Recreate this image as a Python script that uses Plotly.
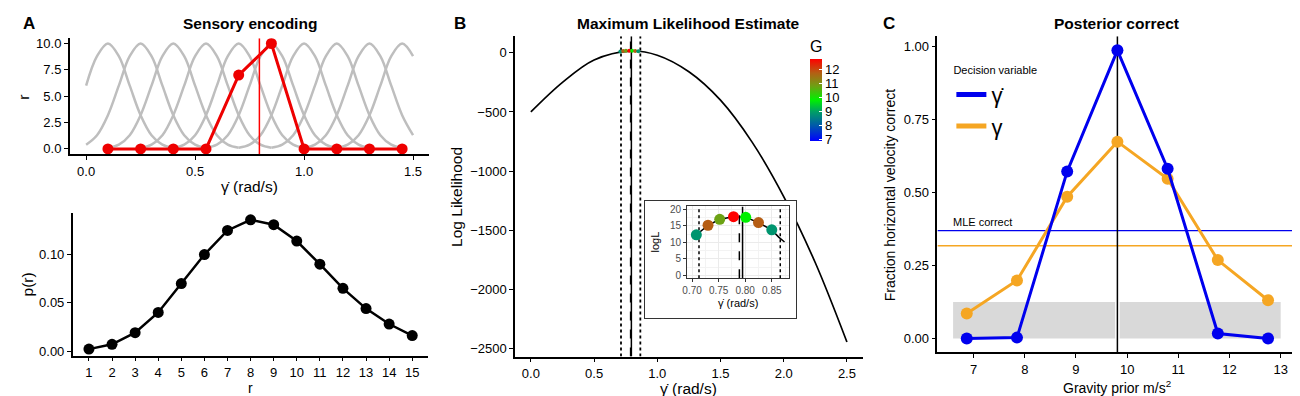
import plotly.graph_objects as go

W, H = 1300, 396
FONT = "Liberation Sans"

# ---------------- Panel A (top): tuning curves ----------------
tuning_centers = [0.10, 0.25, 0.40, 0.55, 0.70, 0.85, 1.00, 1.15, 1.30, 1.45]
tuning_offsets = [-0.30, -0.25, -0.20, -0.15, -0.10, -0.05, 0.0, 0.05, 0.10, 0.15, 0.20, 0.25, 0.30]
tuning_profile = [0.1, 0.4, 1.3, 3.2, 6.0, 8.8, 10.0, 8.8, 6.0, 3.2, 1.3, 0.4, 0.1]
spike_counts = [0, 0, 0, 0, 7, 10, 0, 0, 0, 0]
true_velocity = 0.795

# ---------------- Panel A (bottom): p(r) ----------------
r_values = list(range(1, 16))
p_r = [0.002, 0.007, 0.019, 0.040, 0.070, 0.100, 0.125, 0.136, 0.131,
       0.114, 0.090, 0.065, 0.044, 0.028, 0.016]

# ---------------- Panel B: log likelihood ----------------
ll_x = [0.0, 0.25, 0.5, 0.79, 1.0, 1.25, 1.5, 1.75, 2.0, 2.25, 2.5]
ll_y = [-500, -250, -60, 15, -20, -160, -400, -755, -1215, -1775, -2445]
ci_bounds = [0.713, 0.866]
mle_estimate = 0.789

inset_x = [0.708, 0.730, 0.752, 0.778, 0.801, 0.825, 0.850]
inset_logL = [12.3, 15.2, 17.0, 17.8, 17.6, 16.0, 13.8]
inset_G = [8.829, 11.772, 10.791, 12.753, 9.81, 11.772, 8.829]
inset_tail_x = [0.863, 0.874]
inset_tail_y = [11.6, 10.1]
G_levels = [6.867, 7.848, 8.829, 9.81, 10.791, 11.772, 12.753]

# ---------------- Panel C: posterior correct ----------------
gravity_prior = [6.867, 7.848, 8.829, 9.81, 10.791, 11.772, 12.753]
correct_gammadot = [0.0, 0.003, 0.573, 0.988, 0.582, 0.017, 0.0]
correct_gamma = [0.086, 0.199, 0.486, 0.675, 0.548, 0.269, 0.131]
mle_correct_gammadot = 0.370
mle_correct_gamma = 0.318
chance_x = [6.6, 13.0]
chance_level = 0.125
true_gravity = 9.81

GDOT = "\u03b3\u0307"
GAM = "\u03b3"
BLUE = "#0000EE"
ORANGE = "#F5A623"
RED = "#EE0000"

colorscale = [
    [0.0, "rgb(0,0,255)"], [0.19, "rgb(0,90,170)"], [0.36, "rgb(0,160,100)"],
    [0.5, "rgb(0,240,0)"], [0.67, "rgb(110,160,20)"], [0.83, "rgb(180,95,20)"],
    [1.0, "rgb(255,0,0)"],
]


def px_x(p):
    return p / W


def px_y(p):
    return 1 - p / H


def axis(**kw):
    base = dict(showline=True, linecolor="black", linewidth=1.6, ticks="outside",
                ticklen=4, tickwidth=1.3, tickcolor="black", showgrid=False,
                zeroline=False, fixedrange=True,
                tickfont=dict(family=FONT, size=13, color="black"))
    base.update(kw)
    return base


fig = go.Figure()

# Panel A top traces
for c in tuning_centers:
    xs, ys = [], []
    for o, v in zip(tuning_offsets, tuning_profile):
        x = round(c + o, 4)
        if -1e-9 <= x <= 1.5 + 1e-9:
            xs.append(x)
            ys.append(v)
    fig.add_trace(go.Scatter(x=xs, y=ys, mode="lines", line=dict(color="#BEBEBE", width=2.5, shape="spline"),
                             xaxis="x", yaxis="y", showlegend=False, hoverinfo="skip"))
fig.add_trace(go.Scatter(x=tuning_centers, y=spike_counts, mode="lines+markers",
                         line=dict(color=RED, width=3), marker=dict(color=RED, size=11),
                         xaxis="x", yaxis="y", showlegend=False))

# Panel A bottom
fig.add_trace(go.Scatter(x=r_values, y=p_r, mode="lines+markers",
                         line=dict(color="black", width=2.5), marker=dict(color="black", size=11),
                         xaxis="x2", yaxis="y2", showlegend=False))

# Panel B main
B_YR = [-2568, 141]
fig.add_trace(go.Scatter(x=ll_x, y=ll_y, mode="lines", line=dict(color="black", width=1.7, shape="spline"),
                         xaxis="x3", yaxis="y3", showlegend=False))
fig.add_trace(go.Scatter(x=inset_x, y=inset_logL, mode="markers",
                         marker=dict(size=4, color=inset_G, colorscale=colorscale,
                                     cmin=min(G_levels), cmax=max(G_levels), showscale=True,
                                     colorbar=dict(title=dict(text="G", side="top",
                                                              font=dict(family=FONT, size=16)),
                                                   x=px_x(800), xanchor="left", y=px_y(80), yanchor="middle",
                                                   len=104, lenmode="pixels", thickness=12,
                                                   xpad=0, ypad=0, outlinewidth=0,
                                                   ticks="inside", tickcolor="white", ticklen=3,
                                                   tickvals=[7, 8, 9, 10, 11, 12],
                                                   tickfont=dict(family=FONT, size=13))),
                         xaxis="x3", yaxis="y3", showlegend=False))

# Panel B inset frame (white box)
fig.add_trace(go.Scatter(x=[0, 1, 1, 0, 0], y=[0, 0, 1, 1, 0], fill="toself", fillcolor="white",
                         mode="lines", line=dict(width=0), xaxis="x4", yaxis="y4",
                         showlegend=False, hoverinfo="skip"))

# Panel B inset
IN_YR = [-0.9, 20.9]
fig.add_trace(go.Scatter(x=inset_x + inset_tail_x, y=inset_logL + inset_tail_y, mode="lines",
                         line=dict(color="black", width=1.5), xaxis="x5", yaxis="y5",
                         showlegend=False))
fig.add_trace(go.Scatter(x=inset_x, y=inset_logL, mode="markers",
                         marker=dict(size=11, color=inset_G, colorscale=colorscale,
                                     cmin=min(G_levels), cmax=max(G_levels), showscale=False),
                         xaxis="x5", yaxis="y5", showlegend=False))

# Panel C
C_YR = [-0.0474, 1.036]
fig.add_trace(go.Scatter(x=gravity_prior, y=correct_gamma, mode="lines+markers",
                         line=dict(color=ORANGE, width=3), marker=dict(color=ORANGE, size=12),
                         xaxis="x6", yaxis="y6", showlegend=False))
fig.add_trace(go.Scatter(x=gravity_prior, y=correct_gammadot, mode="lines+markers",
                         line=dict(color=BLUE, width=3), marker=dict(color=BLUE, size=12),
                         xaxis="x6", yaxis="y6", showlegend=False))
fig.add_trace(go.Scatter(x=[None], y=[None], mode="lines", line=dict(color=BLUE, width=5),
                         name=GDOT, xaxis="x6", yaxis="y6", showlegend=True))
fig.add_trace(go.Scatter(x=[None], y=[None], mode="lines", line=dict(color=ORANGE, width=5),
                         name=GAM, xaxis="x6", yaxis="y6", showlegend=True))

shapes = []
# Panel A red line
shapes.append(dict(type="line", xref="x", yref="y", x0=true_velocity, x1=true_velocity,
                   y0=-0.5, y1=10.5, line=dict(color="#FF0000", width=1.5), layer="above"))
# Panel B lines
for xb in ci_bounds:
    shapes.append(dict(type="line", xref="x3", yref="y3", x0=xb, x1=xb, y0=B_YR[0], y1=B_YR[1],
                       line=dict(color="black", width=1.8, dash="dot"), layer="between"))
    shapes.append(dict(type="line", xref="x5", yref="y5", x0=xb, x1=xb, y0=IN_YR[0], y1=IN_YR[1],
                       line=dict(color="black", width=1.5, dash="dot"), layer="between"))
shapes.append(dict(type="line", xref="x3", yref="y3", x0=true_velocity, x1=true_velocity,
                   y0=B_YR[0], y1=B_YR[1], line=dict(color="black", width=1.5), layer="between"))
shapes.append(dict(type="line", xref="x3", yref="y3", x0=mle_estimate, x1=mle_estimate,
                   y0=B_YR[0], y1=B_YR[1], line=dict(color="black", width=1.5, dash="dash"), layer="between"))
shapes.append(dict(type="line", xref="x5", yref="y5", x0=true_velocity, x1=true_velocity,
                   y0=IN_YR[0], y1=IN_YR[1], line=dict(color="black", width=1.5), layer="between"))
shapes.append(dict(type="line", xref="x5", yref="y5", x0=mle_estimate, x1=mle_estimate,
                   y0=IN_YR[0], y1=IN_YR[1], line=dict(color="black", width=1.5, dash="dash"), layer="between"))
# Panel C
shapes.append(dict(type="rect", xref="x6", yref="y6", x0=chance_x[0], x1=chance_x[1], y0=0, y1=chance_level,
                   fillcolor="#D9D9D9", line=dict(width=0), layer="between"))
shapes.append(dict(type="line", xref="x6", yref="y6", x0=true_gravity, x1=true_gravity,
                   y0=C_YR[0], y1=C_YR[1], line=dict(color="white", width=4.5), layer="between"))
shapes.append(dict(type="line", xref="x6", yref="y6", x0=6.294, x1=13.3, y0=mle_correct_gammadot,
                   y1=mle_correct_gammadot, line=dict(color=BLUE, width=1.3), layer="between"))
shapes.append(dict(type="line", xref="x6", yref="y6", x0=6.294, x1=13.3, y0=mle_correct_gamma,
                   y1=mle_correct_gamma, line=dict(color=ORANGE, width=1.3), layer="between"))
shapes.append(dict(type="line", xref="x6", yref="y6", x0=true_gravity, x1=true_gravity,
                   y0=C_YR[0], y1=C_YR[1], line=dict(color="black", width=1.5), layer="between"))

ann = []


def text(px, py, s, size=14, bold=False, angle=0, xanchor="center", color="black"):
    ann.append(dict(x=px_x(px), y=px_y(py), xref="paper", yref="paper", text=("<b>%s</b>" % s) if bold else s,
                    showarrow=False, textangle=angle, xanchor=xanchor, yanchor="middle", borderpad=0,
                    font=dict(family=FONT, size=size, color=color)))


text(16, 14, "A", 17, True)
text(449, 14, "B", 17, True)
text(879, 14, "C", 17, True)
text(237.5, 14, "Sensory encoding", 15.5, True)
text(678.5, 14, "Maximum Likelihood Estimate", 15.5, True)
text(1108, 14, "Posterior correct", 15.5, True)
text(237.5, 179, GDOT + " (rad/s)", 15.5)
text(11, 88, "r", 15.5, angle=-90)
text(238, 382.5, "r", 14)
text(15, 278, "p(r)", 15.5, angle=-90)
text(445, 189, "Log Likelihood", 15.5, angle=-90)
text(678.5, 383, GDOT + " (rad/s)", 15.5)
text(645, 235, "logL", 11, angle=-90)
text(728, 297, GDOT + " (rad/s)", 11)
text(880, 187, "Fraction horizontal velocity correct", 14, angle=-90)
text(1108, 382, "Gravity prior m/s<sup>2</sup>", 14)
text(943, 215, "MLE correct", 11, xanchor="left")

fig.update_layout(
    width=W, height=H, margin=dict(l=0, r=0, t=0, b=0),
    paper_bgcolor="white", plot_bgcolor="white",
    font=dict(family=FONT, color="black"),
    shapes=shapes, annotations=ann,
    legend=dict(x=px_x(942), y=px_y(50), xanchor="left", yanchor="top",
                title=dict(text="Decision variable", font=dict(family=FONT, size=11)),
                font=dict(family=FONT, size=22), bgcolor="rgba(0,0,0,0)", tracegroupgap=0),
    xaxis=axis(domain=[px_x(57), px_x(418)], range=[-0.075, 1.575], anchor="y",
               tickvals=[0, 0.5, 1.0, 1.5], tickformat=".1f"),
    yaxis=axis(domain=[px_y(146), px_y(28.6)], range=[-0.5, 10.5], anchor="x",
               tickvals=[0, 2.5, 5, 7.5, 10], tickformat=".1f"),
    xaxis2=axis(domain=[px_x(60), px_x(417)], range=[0.3, 15.7], anchor="y2", tickvals=r_values),
    yaxis2=axis(domain=[px_y(350), px_y(206)], range=[-0.0047, 0.1427], anchor="x2",
                tickvals=[0, 0.05, 0.10], tickformat=".2f"),
    xaxis3=axis(domain=[px_x(504), px_x(853)], range=[-0.125, 2.625], anchor="y3",
                tickvals=[0, 0.5, 1.0, 1.5, 2.0, 2.5], tickformat=".1f"),
    yaxis3=axis(domain=[px_y(351), px_y(26.5)], range=B_YR, anchor="x3",
                tickvals=[0, -500, -1000, -1500, -2000, -2500]),
    xaxis4=dict(domain=[px_x(634.3), px_x(786)], range=[0, 1], anchor="y4", showline=True, mirror=True,
                linecolor="#333333", linewidth=1.3, showticklabels=False, ticks="", showgrid=False,
                zeroline=False, fixedrange=True),
    yaxis4=dict(domain=[px_y(311.7), px_y(193.3)], range=[0, 1], anchor="x4", showline=True, mirror=True,
                linecolor="#333333", linewidth=1.3, showticklabels=False, ticks="", showgrid=False,
                zeroline=False, fixedrange=True),
    xaxis5=dict(domain=[px_x(676.7), px_x(779.3)], range=[0.6906, 0.883], anchor="y5",
                showline=True, mirror=True, linecolor="#333333", linewidth=1, ticks="outside",
                ticklen=3, tickcolor="#333333", tickvals=[0.70, 0.75, 0.80, 0.85], tickformat=".2f",
                tickfont=dict(family=FONT, size=10, color="#4D4D4D"), showgrid=True, gridcolor="#EBEBEB",
                minor=dict(showgrid=True, gridcolor="#F3F3F3", tickvals=[0.725, 0.775, 0.825, 0.875]),
                zeroline=False, fixedrange=True),
    yaxis5=dict(domain=[px_y(271.7), px_y(199)], range=IN_YR, anchor="x5",
                showline=True, mirror=True, linecolor="#333333", linewidth=1, ticks="outside",
                ticklen=3, tickcolor="#333333", tickvals=[0, 5, 10, 15, 20],
                tickfont=dict(family=FONT, size=10, color="#4D4D4D"), showgrid=True, gridcolor="#EBEBEB",
                minor=dict(showgrid=True, gridcolor="#F3F3F3", tickvals=[2.5, 7.5, 12.5, 17.5]),
                zeroline=False, fixedrange=True),
    xaxis6=axis(domain=[px_x(928), px_x(1288)], range=[6.294, 13.3], anchor="y6",
                tickvals=[7, 8, 9, 10, 11, 12, 13]),
    yaxis6=axis(domain=[px_y(346.7), px_y(26.7)], range=C_YR, anchor="x6",
                tickvals=[0, 0.25, 0.5, 0.75, 1.0], tickformat=".2f"),
)

fig.write_html("out.html")
